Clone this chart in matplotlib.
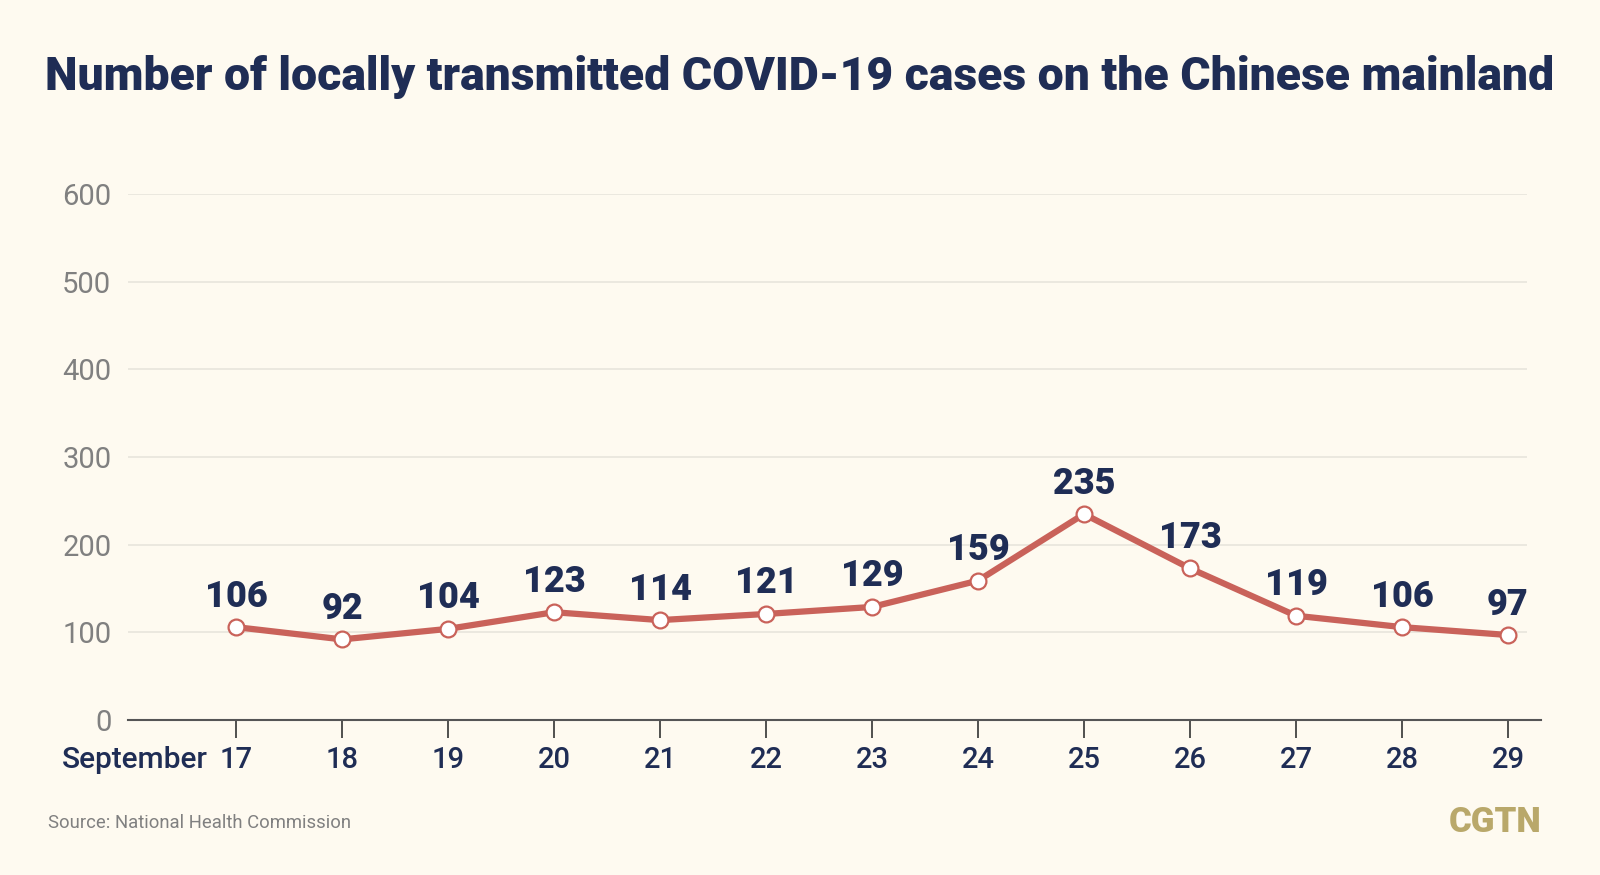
import matplotlib
matplotlib.use('Agg')
import matplotlib.pyplot as plt

days = [17, 18, 19, 20, 21, 22, 23, 24, 25, 26, 27, 28, 29]
cases = [106, 92, 104, 123, 114, 121, 129, 159, 235, 173, 119, 106, 97]
yticks = [0, 100, 200, 300, 400, 500, 600]

bg = '#fefaf0'
navy = '#1f2d55'
red = '#c9625a'
gray = '#808080'

plt.rcParams['font.family'] = ['Roboto', 'DejaVu Sans']

fig = plt.figure(figsize=(16, 8.75), dpi=100, facecolor=bg)
ax = fig.add_axes([0.08, 0.1771, 0.883, 0.6011], facecolor=bg)

ax.set_xlim(15.98, 29.31)
ax.set_ylim(0, 600)

# gridlines stop a bit before the axis end
ax.hlines(yticks[1:], 15.98, 29.18, color='#e8e5dc', lw=1.2, zorder=1)

ax.plot(days, cases, color=red, lw=4.5, zorder=3, solid_capstyle='round')
ax.scatter(days, cases, s=130, facecolor='white', edgecolor=red, linewidth=1.6, zorder=4)

for d, c in zip(days, cases):
    ax.annotate(str(c), (d, c), xytext=(0, 9), textcoords='offset points',
                ha='center', va='bottom', fontsize=26, fontweight='black', color=navy, zorder=5)

for s in ['top', 'right', 'left']:
    ax.spines[s].set_visible(False)
ax.spines['bottom'].set_color('#555555')
ax.spines['bottom'].set_linewidth(1.5)

ax.set_yticks(yticks)
ax.set_yticklabels([str(v) for v in yticks])
ax.tick_params(axis='y', length=0, pad=12, labelsize=21, labelcolor=gray)

ax.set_xticks(days)
ax.set_xticklabels([str(d) for d in days])
ax.tick_params(axis='x', length=13, width=1.2, color='#333333', direction='out',
               pad=6, labelsize=21, labelcolor=navy)
for lab in ax.get_xticklabels():
    lab.set_fontweight('medium')

fig.text(62 / 1600, 1 - 760 / 875, 'September', ha='left', va='center',
         fontsize=21.5, fontweight='medium', color=navy)

fig.text(0.5, 1 - 77 / 875, 'Number of locally transmitted COVID-19 cases on the Chinese mainland',
         ha='center', va='center', fontsize=33.4, fontweight='black', color=navy)

fig.text(48 / 1600, 1 - 823 / 875, 'Source: National Health Commission',
         ha='left', va='center', fontsize=13.3, color=gray)
fig.text(1541 / 1600, 1 - 823 / 875, 'CGTN', ha='right', va='center',
         fontsize=25, fontweight='black', color='#b9a86a')

fig.savefig('out.png', dpi=100, facecolor=bg)
